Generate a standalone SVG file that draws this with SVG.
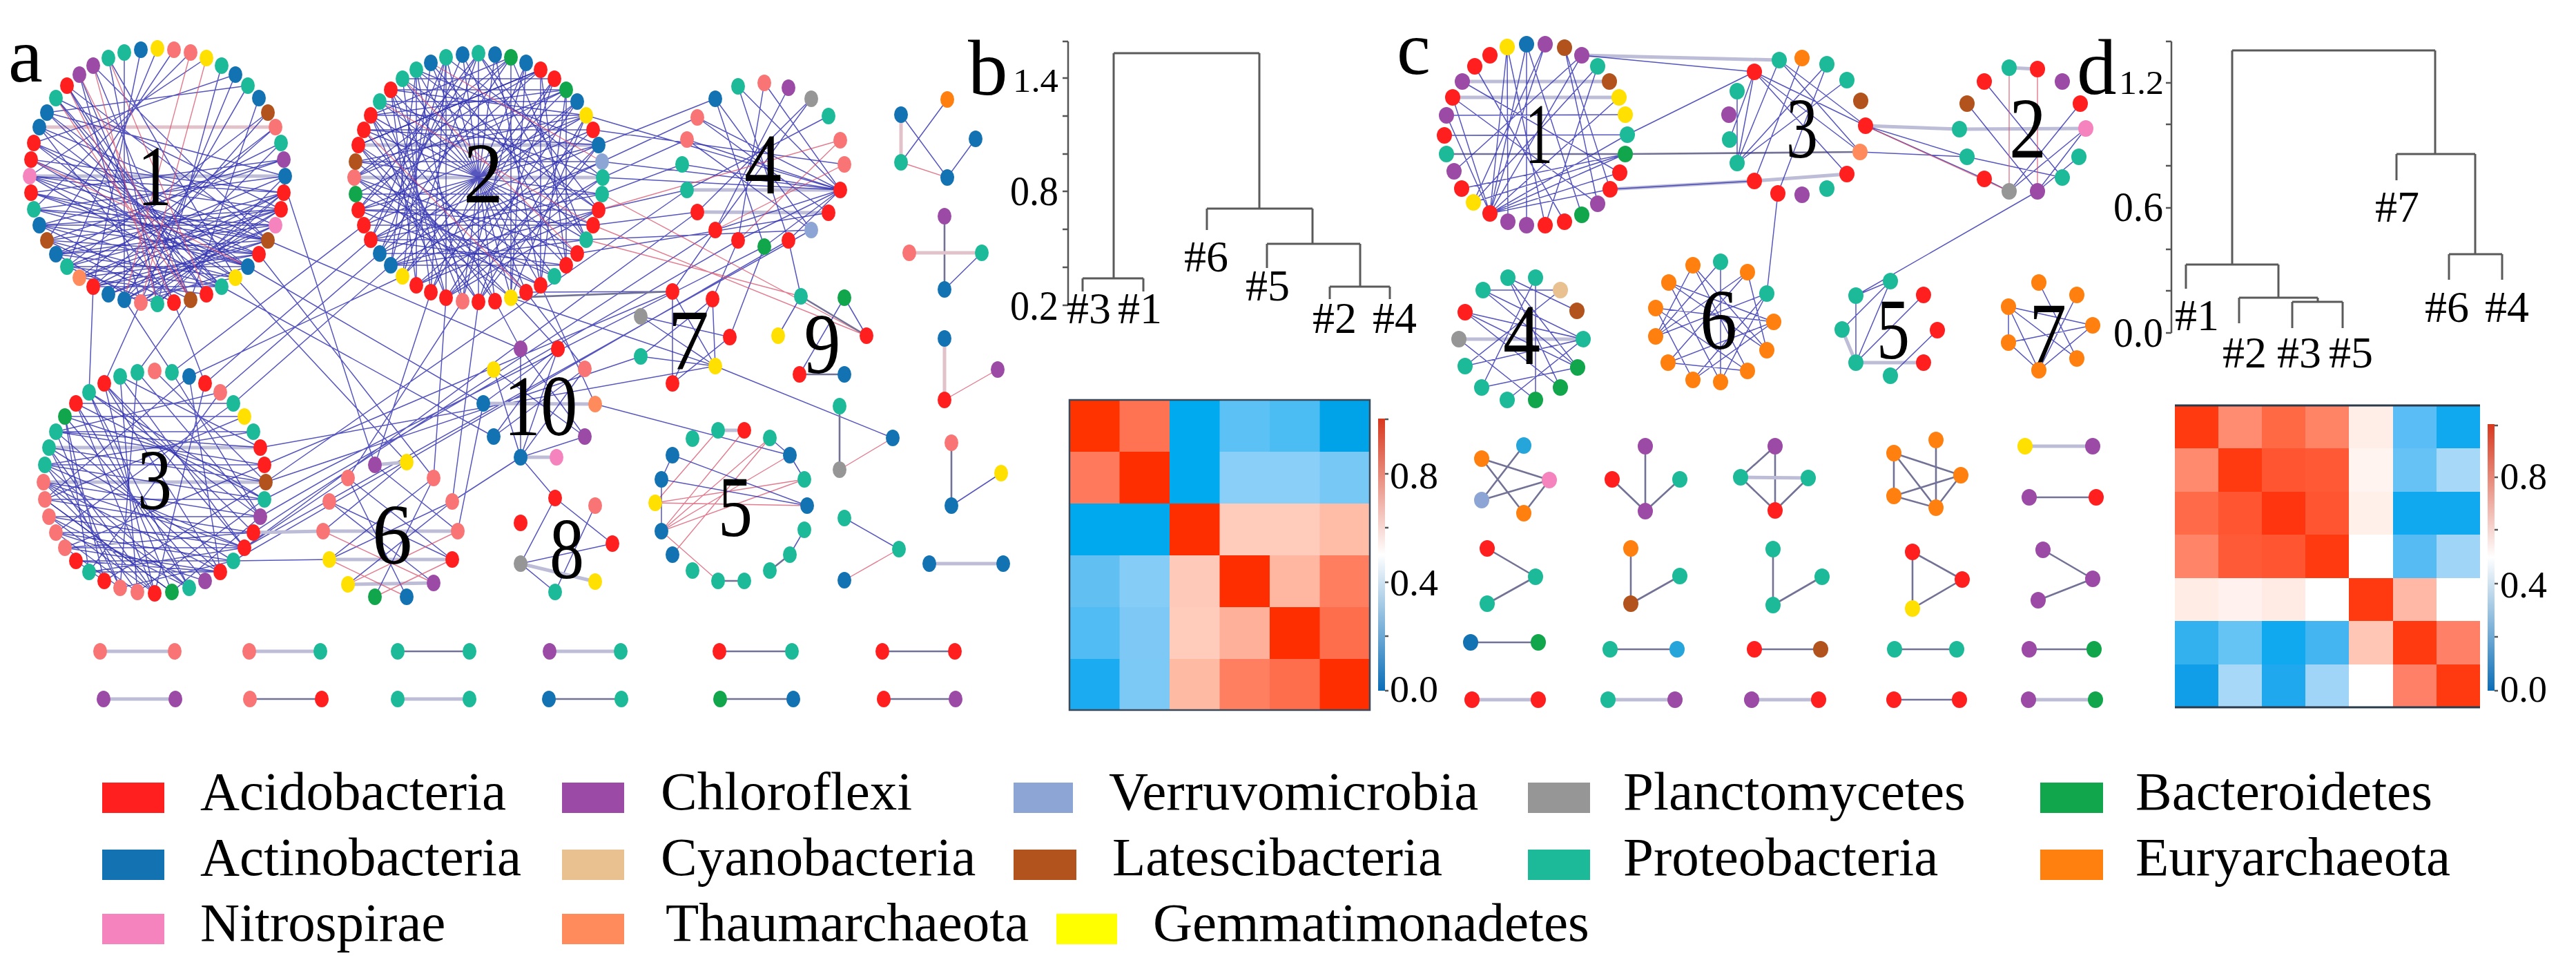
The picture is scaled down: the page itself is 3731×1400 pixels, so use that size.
<svg xmlns="http://www.w3.org/2000/svg" xmlns:xlink="http://www.w3.org/1999/xlink" width="3731" height="1400" viewBox="0 0 3731 1400">
<style>
.A{fill:#FF1F1F}.C{fill:#9B4BA5}.V{fill:#8DA5D5}.P{fill:#969696}.B{fill:#11A64B}.N{fill:#1272B2}.Y{fill:#E9C08F}.L{fill:#B2531E}.T{fill:#1DBA9A}.E{fill:#FF7F0F}.I{fill:#F584BE}.H{fill:#FF8B5C}.G{fill:#FFE000}.S{fill:#F97575}.K{fill:#25A5DA}
.e1{stroke:#2C2CAE;stroke-width:1.5;stroke-opacity:.8;fill:none}
.e2{stroke:#D8506A;stroke-width:1.4;stroke-opacity:.75;fill:none}
.e3{stroke:#BDBDD8;stroke-width:5;fill:none}
.e4{stroke:#727296;stroke-width:2.6;fill:none}
.e5{stroke:#E2C2CA;stroke-width:5;fill:none}
.dg{stroke:#5A5A5A;stroke-width:3;fill:none}
.ax{stroke:#555;stroke-width:2.5;fill:none}
.t{font-family:"Liberation Serif","Times New Roman",serif;fill:#000}
.lab{font-size:125px;text-anchor:middle}
.lg{font-size:79px}
.num{font-size:62px}
.hs{font-size:64px}
</style>
<defs>
<ellipse id="d" rx="10" ry="12"/>
<ellipse id="dc" rx="11" ry="12"/>
<linearGradient id="cb" x1="0" y1="0" x2="0" y2="1">
<stop offset="0" stop-color="#D8381E"/><stop offset="0.5" stop-color="#FFFFFF"/><stop offset="1" stop-color="#0A6EB8"/>
</linearGradient>
</defs>
<rect width="3731" height="1400" fill="#fff"/>

<g id="connectors">
<!-- panel a circle 1 -->
<path class="e3" d="M43 255L413 255"/>
<path class="e5" d="M57 184L399 184"/>
<path class="e1" d="M43 255L411 279M43 255L407 303M45 231L411 279M49 207L388 348M45 279L375 368M49 303L359 386M57 326L341 402M68 348L375 368M81 368L388 348M97 386L407 303M115 402L411 279M68 163L359 386M81 142L321 415M97 124L299 426M57 184L399 326M57 326L407 303M49 303L399 326M45 279L388 348M43 255L359 386M45 231L341 402M49 207L321 415M81 368L341 402M97 386L321 415M115 402L299 426M135 415L375 368M157 426L388 348M180 434L399 326M204 438L407 303M228 440L411 279M68 163L413 255M81 142L407 303M97 124L388 348M135 95L276 434M157 84L228 440M180 76L180 434M204 72L135 415M228 70L97 386M252 72L68 348M276 76L49 303M299 84L43 255M341 108L49 207M359 124L68 163M388 163L97 386M399 184L135 415M407 207L180 434M321 95L228 440M375 142L276 434M411 231L68 348M115 108L204 438M57 184L252 438M68 348L252 438M97 386L228 440M81 368L204 438M135 415L321 415M57 326L276 434M180 434L341 402M204 438L359 386M135 95L388 348M157 84L341 402"/>
<path class="e1" d="M97 386L413 255M81 368L411 279M68 348L407 303M57 326L399 326M49 303L388 348M45 279L359 386M115 402L375 368M135 415L388 348M157 426L399 326M180 434L407 303M204 438L411 279M228 440L413 255M45 231L375 368M49 207L359 386M57 184L341 402M68 163L321 415M81 142L299 426M97 124L276 434M115 108L252 438M43 255L321 415M43 255L388 348M49 303L413 255M68 348L321 415M97 386L359 386M57 326L375 368M81 368L399 326M115 402L407 303M135 415L411 279M45 279L411 231M57 326L411 231M81 368L407 207M115 402L399 184M157 426L388 163M180 434L359 124M204 438L341 108"/>
<path class="e2" d="M81 142L276 434M97 124L252 438M115 108L276 434M135 95L228 440M157 84L299 426M276 76L180 434M299 84L204 438M45 231L359 386"/>
<!-- circle 2 -->
<path class="e3" d="M513 257L873 257M519 210L867 210"/>
<path class="e1" d="M515 234L872 234M515 281L872 281M519 304L867 304M527 188L859 188M537 167L849 167M550 147L836 147M527 326L859 326M537 347L849 347M550 367L836 367M566 130L820 130M566 384L820 384M583 114L803 114M693 77L693 437M740 83L740 431M783 101L783 413M820 130L820 384M646 83L646 431M603 101L603 413M513 257L783 413M513 257L820 130M519 210L740 431M519 210L783 101M537 167L693 437M537 167L740 83M566 130L646 431M603 101L867 304M646 83L566 384M646 83L873 257M693 77L537 347M693 77L849 347M740 83L519 304M783 101L513 257M820 130L566 384M849 167L537 347M867 210L519 304M873 257L603 413M867 304L646 431M849 347L537 167M820 384L566 130M783 413L603 101M740 431L646 83M693 437L849 167M646 431L867 210M566 384L867 304M537 347L867 210M519 304L849 167M717 79L670 436M762 91L624 423M803 114L583 400M836 147L550 367M859 188L527 326M872 281L515 234M859 326L527 188M836 367L550 147M803 400L583 114M762 423L624 91M717 436L670 79M583 400L836 147M624 423L803 114M670 436L762 91M550 367L872 234M515 281L803 400M515 234L762 423M527 188L717 436M550 147L670 436M583 114L624 423M624 91L583 400M670 79L550 367"/>
<path class="e1" d="M693 77L867 304M740 83L849 347M783 101L820 384M820 130L783 413M849 167L740 431M867 210L693 437M873 257L646 431M867 304L603 413M849 347L566 384M820 384L537 347M783 413L519 304M740 431L513 257M693 437L519 210M646 431L537 167M603 413L566 130M566 384L603 101M537 347L646 83M519 304L693 77M513 257L740 83M519 210L783 101M537 167L820 130M566 130L849 167M603 101L867 210M717 79L783 413M762 91L740 431M803 114L693 437M836 147L646 431M859 188L603 413M872 234L566 384M872 281L537 347M859 326L519 304M836 367L513 257M803 400L519 210M762 423L537 167M717 436L566 130M670 436L603 101M624 423L646 83M583 400L693 77M550 367L740 83M527 326L783 101M515 281L820 130M515 234L849 167M527 188L867 210M550 147L873 257M583 114L867 304M624 91L849 347M670 79L820 384"/>
<path class="e2" d="M550 147L859 326M583 114L836 367M527 188L762 423M624 91L872 234"/>
<!-- circle 3 -->
<path class="e3" d="M63 698L385 698M71 648L377 648"/>
<path class="e1" d="M65 723L383 723M65 673L383 673M71 748L377 748M81 771L367 771M94 793L354 793M110 812L338 812M129 828L319 828M81 625L367 625M94 603L354 603M110 584L338 584M63 698L354 793M63 698L319 828M65 673L274 851M71 648L224 859M81 625L174 851M94 603L129 828M110 584L224 859M129 568L274 851M151 555L319 828M174 545L354 793M199 539L377 748M224 537L385 698M249 539L377 748M274 545L319 828M297 555L224 859M319 568L129 828M338 584L81 771M354 603L65 723M367 625L65 673M377 648L81 625M383 673L94 793M385 698L151 841M383 723L199 857M377 748L249 857M367 771L94 793M354 793L129 828M338 812L174 851M319 828L110 812M297 841L81 771M274 851L71 748M249 857L65 723M224 859L63 698M199 857L65 673M174 851L71 648M151 841L94 603M129 568L383 723M174 545L377 648M151 555L367 771M199 539L174 851M274 545L65 723M319 568L81 625"/>
<path class="e1" d="M65 673L354 793M71 648L338 812M81 625L319 828M94 603L297 841M110 584L274 851M129 568L249 857M151 555L224 859M174 545L199 857M65 723L367 771M71 748L354 793M81 771L338 812M94 793L319 828M63 698L377 748M65 673L383 723M71 648L385 698M81 625L383 673M94 603L385 698M110 584L383 723M129 568L377 748M151 555L354 793M63 698L274 851M65 723L249 857M71 748L224 859M81 771L199 857M94 793L174 851M110 812L151 841"/>
<!-- module 4 -->
<path class="e3" d="M995 275L1217 275M1010 307L1200 308"/>
<path class="e1" d="M988 238L1217 275M995 202L1217 275M1010 170L1217 275M1036 333L1217 275M1069 348L1217 275M1107 357L1217 275M1142 348L1217 275M1036 143L1107 357M1069 125L1142 348M1107 120L1069 348M1142 127L1036 333M1175 143L1010 307M1200 168L995 275M1036 143L1175 333M1069 125L1217 275M1010 170L1200 308M995 202L1175 333M1107 120L1217 275M1175 143L1036 333"/>
<path class="e2" d="M1217 203L1069 348M1223 238L1036 333"/>
<!-- inter-module panel a -->
<path class="e1" d="M867 210L1036 143M872 234L1010 170M873 257L995 202M872 281L988 238M867 304L995 275M873 257L1217 275M859 326L1010 307M859 188L1223 238M849 167L1217 275M872 234L1217 275M836 367L1200 308M849 347L1175 333M762 423L974 422M1036 333L367 771M1069 348L377 748M1107 357L383 723M1010 307L354 793M995 275L385 698M1142 348L338 812M1175 333L354 793M409 257L543 673M341 402L589 669M359 386L700 584M388 348L754 505M321 415L715 632M375 368L628 692M204 438L151 555M252 438L297 555M276 434L199 539M180 434L249 539M135 415L129 568M537 347L297 555M550 367L319 568M566 384L338 584M583 400L274 545M527 326L249 539M646 431L628 692M670 436L504 692M693 437L655 726M624 423L543 673M717 436L754 505M740 431L808 505M762 423L847 534M783 413L862 585M385 698L928 516M383 673L974 422M377 648L1036 530M338 812L477 810M354 793L504 692M1036 530L1293 634M862 585L1144 659M754 662L804 721M655 726L754 662M663 769L700 584M1069 348L1032 433M1107 357L1057 488M1036 333L974 422M1142 348L1160 429M740 431L1036 530"/>
<path class="e4" d="M740 431L974 422"/>
<path class="e3" d="M367 771L468 769"/>
<path class="e2" d="M867 304L1217 203M859 326L1255 486M849 347L1160 429M872 281L1255 486"/>
<!-- module 7 -->
<path class="e1" d="M974 422L1036 530M974 422L974 555M928 458L1036 530M928 458L1057 488M928 516L1036 530M928 516L1032 433M1032 433L974 555M1057 488L974 555M1032 433L1036 530"/>
<!-- module 9 -->
<path class="e1" d="M1160 429L1127 486M1223 431L1255 486M1223 431L1158 542"/>
<path class="e4" d="M1158 542L1223 542M1160 429L1255 486"/>
<!-- module 10 -->
<path class="e3" d="M700 584L862 585M754 662L806 662"/>
<path class="e1" d="M715 535L754 662M754 505L754 662M808 505L754 662M847 534L754 662M847 632L754 662M715 632L847 534M808 505L700 584M754 505L847 632M715 535L847 632M715 632L808 505"/>
<!-- module 6 -->
<path class="e3" d="M543 673L589 669M468 769L663 769M477 810L655 810M504 846L628 844"/>
<path class="e1" d="M504 692L655 810M628 692L477 810M477 726L628 844M655 726L504 846M504 692L589 864M628 692L543 864M543 673L663 769M589 669L468 769M477 726L655 810M655 726L477 810"/>
<path class="e2" d="M468 769L628 844M663 769L504 846M543 864L655 810M589 864L477 810"/>
<!-- module 8 -->
<path class="e1" d="M754 816L804 721M754 816L804 857M754 816L887 787M804 721L887 787M862 732L804 857"/>
<path class="e3" d="M754 816L862 842"/>
<!-- module 5 -->
<path class="e2" d="M958 769L1078 623M958 769L1115 634M958 769L1144 659M958 769L1165 694M949 728L1040 623M949 728L1165 694M958 769L1040 841M974 803L1115 634M949 728L1169 732"/>
<path class="e1" d="M958 694L1169 732M974 659L1169 732M1115 634L1144 659M1144 659L1165 694M1165 767L1144 803M958 694L958 769M974 659L958 694"/>
<path class="e3" d="M1040 623L1078 623"/>
<path class="e4" d="M1040 841L1078 841M1115 826L1144 803"/>
<!-- small components panel a -->
<path class="e5" d="M1305 166L1305 235M1368 490L1368 579"/>
<path class="e1" d="M1305 166L1372 257M1305 235L1372 144M1372 257L1413 201M1422 366L1368 419M1378 732L1450 685M1216 588L1216 680M1223 750L1302 795"/>
<path class="e2" d="M1305 235L1372 257M1368 579L1445 535M1216 680L1293 634M1302 795L1223 840"/>
<path class="e4" d="M1368 313L1368 419M1378 641L1378 732M1216 588L1216 680"/>
<path class="e5" d="M1317 366L1422 366"/>
<path class="e3" d="M1346 816L1453 816"/>
<path class="e3" d="M145 943L253 943M361 943L464 943M796 943L899 943M150 1012L254 1012M576 1012L680 1012"/>
<path class="e4" d="M576 943L680 943M1042 943L1147 943M1278 943L1383 943M362 1012L466 1012M795 1012L900 1012M1043 1012L1149 1012M1280 1012L1384 1012"/>
<!-- panel c -->
<path class="e4" d="M2095 223L2354 223M2354 223L2694 220"/>
<path class="e3" d="M2118 118L2331 118M2104 141L2345 141M2291 80L2577 87M2332 274L2541 262M2702 182L2838 187M2541 262L2675 252M2838 187L3021 186M2113 491L2293 491M2668 477L2688 525M2688 525L2786 525"/>
<path class="e1" d="M2095 167L2354 166M2092 196L2357 195M2158 309L2183 68M2158 309L2211 64M2158 309L2238 64M2158 309L2291 80M2158 309L2345 141M2158 309L2357 195M2158 309L2354 223M2158 309L2346 250M2158 309L2332 274M2158 309L2095 167M2158 309L2104 141M2134 293L2238 64M2134 293L2314 96M2134 293L2354 223M2184 321L2183 68M2211 326L2211 64M2238 326L2183 68M2291 311L2211 64M2314 295L2266 69M2332 274L2266 69M2346 250L2118 118M2314 96L2238 326M2291 80L2106 248M2117 273L2354 223M2104 141L2314 295M2266 321L2136 96M2291 80L2541 104M2357 195L2541 104M2332 274L2541 262M2516 236L2541 104M2516 236L2577 87M2516 236L2646 93M2516 236L2675 116M2541 104L2702 182M2541 104L2694 220M2541 104L2675 252M2577 87L2702 182M2577 87L2694 220M2610 84L2541 262M2646 93L2575 280M2516 132L2516 236M2505 202L2541 104M2575 280L2559 425M2702 182L2849 227M2702 182L2874 259M2694 220L2849 227M2874 118L2987 257M2849 150L2951 277M3013 150L2910 277M3021 186L2951 277M3021 186L2910 277M3011 227L2951 277M2849 227L2987 257M2874 259L2910 277M2951 277L2688 428M2688 428L2688 525M2738 407L2668 477M2738 407L2688 525M2688 525L2786 427M2806 478L2738 544M2688 428L2738 407M2909 444L3008 519M2909 444L2953 536M2953 409L3008 519M2909 496L3031 471M3031 471L2953 536M2909 444L3031 471M2909 496L2953 536M3008 427L2953 536M2909 444L2909 496M2148 420L2285 532M2122 452L2260 561M2113 491L2224 579M2184 402L2285 532M2224 402L2224 579M2224 402L2146 561M2148 420L2260 420M2184 402L2284 450M2122 452L2293 491M2122 530L2293 491M2146 561L2285 532M2183 579L2293 491M2184 402L2260 561M2148 420L2293 491M2122 452L2285 532M2260 420L2122 530M2398 446L2569 466M2417 409L2559 507M2452 384L2531 537M2492 379L2492 553M2531 394L2416 525M2398 487L2559 425M2416 525L2569 466M2452 550L2559 425M2417 409L2492 553M2452 384L2559 507M2398 446L2531 537M2398 487L2531 394M2492 379L2398 487M2417 409L2569 466M2452 384L2398 487M2398 446L2452 550M2416 525L2531 537M2452 550L2569 466M2492 553L2559 425M2531 394L2559 507"/>
<path class="e2" d="M2702 182L2910 277M2910 98L2910 277M2951 100L2951 277"/>
<path class="e3" d="M2910 98L2951 100"/>
<!-- small comps c -->
<path class="e4" d="M2146 664L2244 695M2146 664L2207 743M2207 645L2146 724M2146 724L2244 695M2244 695L2207 743M2383 646L2383 740M2335 694L2383 740M2433 694L2383 740M2571 646L2521 691M2571 646L2571 739M2521 691L2571 739M2619 692L2571 739M2743 656L2840 688M2743 656L2743 718M2743 656L2804 735M2804 637L2804 735M2743 718L2840 688M2743 718L2804 735M2840 688L2804 735M2154 794L2224 835M2224 835L2154 874M2362 794L2362 874M2362 874L2433 834M2568 795L2568 876M2568 876L2639 835M2770 799L2842 839M2842 839L2770 881M2770 799L2770 881M2959 796L3031 838M3031 838L2952 869M2130 930L2228 930M2332 940L2429 940M2541 940L2637 940M2744 940L2834 940M2939 940L3033 940M2743 1013L2838 1013M2939 720L3036 720"/>
<path class="e3" d="M2521 691L2619 692M2933 646L3031 646M2132 1013L2228 1013M2329 1013L2426 1013M2537 1013L2634 1013M2938 1013L3035 1013"/>
</g>

<g id="a-module1">
<use href="#d" class="G" x="228" y="70"/><use href="#d" class="S" x="252" y="72"/><use href="#d" class="S" x="276" y="76"/><use href="#d" class="G" x="299" y="84"/><use href="#d" class="T" x="321" y="95"/><use href="#d" class="N" x="341" y="108"/><use href="#d" class="T" x="359" y="124"/><use href="#d" class="N" x="375" y="142"/><use href="#d" class="L" x="388" y="163"/><use href="#d" class="S" x="399" y="184"/><use href="#d" class="T" x="407" y="207"/><use href="#d" class="C" x="411" y="231"/><use href="#d" class="N" x="413" y="255"/><use href="#d" class="A" x="411" y="279"/><use href="#d" class="A" x="407" y="303"/><use href="#d" class="I" x="399" y="326"/><use href="#d" class="L" x="388" y="348"/><use href="#d" class="A" x="375" y="368"/><use href="#d" class="N" x="359" y="386"/><use href="#d" class="G" x="341" y="402"/><use href="#d" class="T" x="321" y="415"/><use href="#d" class="A" x="299" y="426"/><use href="#d" class="L" x="276" y="434"/><use href="#d" class="A" x="252" y="438"/><use href="#d" class="T" x="228" y="440"/><use href="#d" class="S" x="204" y="438"/><use href="#d" class="N" x="180" y="434"/><use href="#d" class="N" x="157" y="426"/><use href="#d" class="A" x="135" y="415"/><use href="#d" class="H" x="115" y="402"/><use href="#d" class="T" x="97" y="386"/><use href="#d" class="N" x="81" y="368"/><use href="#d" class="L" x="68" y="348"/><use href="#d" class="N" x="57" y="326"/><use href="#d" class="T" x="49" y="303"/><use href="#d" class="A" x="45" y="279"/><use href="#d" class="I" x="43" y="255"/><use href="#d" class="A" x="45" y="231"/><use href="#d" class="A" x="49" y="207"/><use href="#d" class="N" x="57" y="184"/><use href="#d" class="N" x="68" y="163"/><use href="#d" class="T" x="81" y="142"/><use href="#d" class="A" x="97" y="124"/><use href="#d" class="C" x="115" y="108"/><use href="#d" class="C" x="135" y="95"/><use href="#d" class="T" x="157" y="84"/><use href="#d" class="T" x="180" y="76"/><use href="#d" class="N" x="204" y="72"/>
<text class="t lab" x="224" y="297" textLength="50" lengthAdjust="spacingAndGlyphs">1</text>
</g>
<g id="a-module2">
<use href="#d" class="T" x="693" y="77"/><use href="#d" class="N" x="717" y="79"/><use href="#d" class="B" x="740" y="83"/><use href="#d" class="N" x="762" y="91"/><use href="#d" class="A" x="783" y="101"/><use href="#d" class="A" x="803" y="114"/><use href="#d" class="B" x="820" y="130"/><use href="#d" class="N" x="836" y="147"/><use href="#d" class="G" x="849" y="167"/><use href="#d" class="A" x="859" y="188"/><use href="#d" class="N" x="867" y="210"/><use href="#d" class="V" x="872" y="234"/><use href="#d" class="T" x="873" y="257"/><use href="#d" class="T" x="872" y="281"/><use href="#d" class="A" x="867" y="304"/><use href="#d" class="A" x="859" y="326"/><use href="#d" class="T" x="849" y="347"/><use href="#d" class="A" x="836" y="367"/><use href="#d" class="A" x="820" y="384"/><use href="#d" class="T" x="803" y="400"/><use href="#d" class="A" x="783" y="413"/><use href="#d" class="A" x="762" y="423"/><use href="#d" class="G" x="740" y="431"/><use href="#d" class="A" x="717" y="436"/><use href="#d" class="A" x="693" y="437"/><use href="#d" class="S" x="670" y="436"/><use href="#d" class="A" x="646" y="431"/><use href="#d" class="A" x="624" y="423"/><use href="#d" class="A" x="603" y="413"/><use href="#d" class="G" x="583" y="400"/><use href="#d" class="N" x="566" y="384"/><use href="#d" class="N" x="550" y="367"/><use href="#d" class="A" x="537" y="347"/><use href="#d" class="A" x="527" y="326"/><use href="#d" class="A" x="519" y="304"/><use href="#d" class="B" x="515" y="281"/><use href="#d" class="S" x="513" y="257"/><use href="#d" class="L" x="515" y="234"/><use href="#d" class="A" x="519" y="210"/><use href="#d" class="A" x="527" y="188"/><use href="#d" class="A" x="537" y="167"/><use href="#d" class="T" x="550" y="147"/><use href="#d" class="A" x="566" y="130"/><use href="#d" class="T" x="583" y="114"/><use href="#d" class="T" x="603" y="101"/><use href="#d" class="N" x="624" y="91"/><use href="#d" class="T" x="646" y="83"/><use href="#d" class="N" x="670" y="79"/>
<text class="t lab" x="700" y="293" textLength="58" lengthAdjust="spacingAndGlyphs">2</text>
</g>
<g id="a-module3">
<use href="#d" class="S" x="224" y="537"/><use href="#d" class="T" x="249" y="539"/><use href="#d" class="N" x="274" y="545"/><use href="#d" class="A" x="297" y="555"/><use href="#d" class="S" x="319" y="568"/><use href="#d" class="T" x="338" y="584"/><use href="#d" class="G" x="354" y="603"/><use href="#d" class="T" x="367" y="625"/><use href="#d" class="A" x="377" y="648"/><use href="#d" class="A" x="383" y="673"/><use href="#d" class="L" x="385" y="698"/><use href="#d" class="T" x="383" y="723"/><use href="#d" class="C" x="377" y="748"/><use href="#d" class="A" x="367" y="771"/><use href="#d" class="A" x="354" y="793"/><use href="#d" class="T" x="338" y="812"/><use href="#d" class="A" x="319" y="828"/><use href="#d" class="C" x="297" y="841"/><use href="#d" class="T" x="274" y="851"/><use href="#d" class="B" x="249" y="857"/><use href="#d" class="A" x="224" y="859"/><use href="#d" class="S" x="199" y="857"/><use href="#d" class="S" x="174" y="851"/><use href="#d" class="A" x="151" y="841"/><use href="#d" class="T" x="129" y="828"/><use href="#d" class="A" x="110" y="812"/><use href="#d" class="S" x="94" y="793"/><use href="#d" class="S" x="81" y="771"/><use href="#d" class="S" x="71" y="748"/><use href="#d" class="S" x="65" y="723"/><use href="#d" class="S" x="63" y="698"/><use href="#d" class="T" x="65" y="673"/><use href="#d" class="T" x="71" y="648"/><use href="#d" class="T" x="81" y="625"/><use href="#d" class="B" x="94" y="603"/><use href="#d" class="A" x="110" y="584"/><use href="#d" class="T" x="129" y="568"/><use href="#d" class="A" x="151" y="555"/><use href="#d" class="T" x="174" y="545"/><use href="#d" class="T" x="199" y="539"/>
<text class="t lab" x="224" y="737" textLength="50" lengthAdjust="spacingAndGlyphs">3</text>
</g>
<g id="a-module4">
<use href="#d" class="N" x="1036" y="143"/><use href="#d" class="T" x="1069" y="125"/><use href="#d" class="S" x="1107" y="120"/><use href="#d" class="C" x="1142" y="127"/><use href="#d" class="P" x="1175" y="143"/><use href="#d" class="T" x="1200" y="168"/><use href="#d" class="S" x="1217" y="203"/><use href="#d" class="S" x="1223" y="238"/><use href="#d" class="A" x="1217" y="275"/><use href="#d" class="A" x="1200" y="308"/><use href="#d" class="V" x="1175" y="333"/><use href="#d" class="A" x="1142" y="348"/><use href="#d" class="B" x="1107" y="357"/><use href="#d" class="A" x="1069" y="348"/><use href="#d" class="A" x="1036" y="333"/><use href="#d" class="A" x="1010" y="307"/><use href="#d" class="T" x="995" y="275"/><use href="#d" class="T" x="988" y="238"/><use href="#d" class="S" x="995" y="202"/><use href="#d" class="S" x="1010" y="170"/>
<text class="t lab" x="1105" y="280" textLength="54" lengthAdjust="spacingAndGlyphs">4</text>
</g>
<g id="a-module5">
<use href="#d" class="T" x="1003" y="635"/><use href="#d" class="T" x="1040" y="623"/><use href="#d" class="A" x="1078" y="623"/><use href="#d" class="T" x="1115" y="634"/><use href="#d" class="N" x="1144" y="659"/><use href="#d" class="T" x="1165" y="694"/><use href="#d" class="N" x="1169" y="732"/><use href="#d" class="T" x="1165" y="767"/><use href="#d" class="T" x="1144" y="803"/><use href="#d" class="T" x="1115" y="826"/><use href="#d" class="T" x="1078" y="841"/><use href="#d" class="T" x="1040" y="841"/><use href="#d" class="T" x="1003" y="826"/><use href="#d" class="N" x="974" y="803"/><use href="#d" class="N" x="958" y="769"/><use href="#d" class="G" x="949" y="728"/><use href="#d" class="N" x="958" y="694"/><use href="#d" class="N" x="974" y="659"/>
<text class="t lab" x="1065" y="776" textLength="50" lengthAdjust="spacingAndGlyphs">5</text>
</g>
<g id="a-module6">
<use href="#d" class="C" x="543" y="673"/><use href="#d" class="G" x="589" y="669"/><use href="#d" class="S" x="504" y="692"/><use href="#d" class="S" x="628" y="692"/><use href="#d" class="S" x="477" y="726"/><use href="#d" class="S" x="655" y="726"/><use href="#d" class="S" x="468" y="769"/><use href="#d" class="S" x="663" y="769"/><use href="#d" class="G" x="477" y="810"/><use href="#d" class="A" x="655" y="810"/><use href="#d" class="G" x="504" y="846"/><use href="#d" class="C" x="628" y="844"/><use href="#d" class="B" x="543" y="864"/><use href="#d" class="N" x="589" y="864"/>
<text class="t lab" x="568" y="816" textLength="58" lengthAdjust="spacingAndGlyphs">6</text>
</g>
<g id="a-module7">
<use href="#d" class="A" x="974" y="422"/><use href="#d" class="A" x="1032" y="433"/><use href="#d" class="P" x="928" y="458"/><use href="#d" class="A" x="1057" y="488"/><use href="#d" class="T" x="928" y="516"/><use href="#d" class="G" x="1036" y="530"/><use href="#d" class="A" x="974" y="555"/>
<text class="t lab" x="997" y="535" textLength="60" lengthAdjust="spacingAndGlyphs">7</text>
</g>
<g id="a-module8">
<use href="#d" class="A" x="804" y="721"/><use href="#d" class="S" x="862" y="732"/><use href="#d" class="A" x="754" y="757"/><use href="#d" class="A" x="887" y="787"/><use href="#d" class="P" x="754" y="816"/><use href="#d" class="G" x="862" y="842"/><use href="#d" class="T" x="804" y="857"/>
<text class="t lab" x="821" y="837" textLength="50" lengthAdjust="spacingAndGlyphs">8</text>
</g>
<g id="a-module9">
<use href="#d" class="T" x="1160" y="429"/><use href="#d" class="B" x="1223" y="431"/><use href="#d" class="G" x="1127" y="486"/><use href="#d" class="A" x="1255" y="486"/><use href="#d" class="A" x="1158" y="542"/><use href="#d" class="N" x="1223" y="542"/>
<text class="t lab" x="1191" y="540" textLength="53" lengthAdjust="spacingAndGlyphs">9</text>
</g>
<g id="a-module10">
<use href="#d" class="C" x="754" y="505"/><use href="#d" class="A" x="808" y="505"/><use href="#d" class="G" x="715" y="535"/><use href="#d" class="S" x="847" y="534"/><use href="#d" class="N" x="700" y="584"/><use href="#d" class="H" x="862" y="585"/><use href="#d" class="N" x="715" y="632"/><use href="#d" class="C" x="847" y="632"/><use href="#d" class="N" x="754" y="662"/><use href="#d" class="I" x="806" y="662"/>
<text class="t lab" x="783" y="630" textLength="107" lengthAdjust="spacingAndGlyphs">10</text>
</g>
<g id="a-small">
<use href="#d" class="N" x="1305" y="166"/><use href="#d" class="E" x="1372" y="144"/><use href="#d" class="N" x="1413" y="201"/><use href="#d" class="T" x="1305" y="235"/><use href="#d" class="N" x="1372" y="257"/>
<use href="#d" class="C" x="1368" y="313"/><use href="#d" class="S" x="1317" y="366"/><use href="#d" class="T" x="1422" y="366"/><use href="#d" class="N" x="1368" y="419"/>
<use href="#d" class="N" x="1368" y="490"/><use href="#d" class="A" x="1368" y="579"/><use href="#d" class="C" x="1445" y="535"/>
<use href="#d" class="S" x="1378" y="641"/><use href="#d" class="N" x="1378" y="732"/><use href="#d" class="G" x="1450" y="685"/>
<use href="#d" class="T" x="1216" y="588"/><use href="#d" class="P" x="1216" y="680"/><use href="#d" class="N" x="1293" y="634"/>
<use href="#d" class="T" x="1223" y="750"/><use href="#d" class="T" x="1302" y="795"/><use href="#d" class="N" x="1223" y="840"/>
<use href="#d" class="N" x="1346" y="816"/><use href="#d" class="N" x="1453" y="816"/>
<use href="#d" class="S" x="145" y="943"/><use href="#d" class="S" x="253" y="943"/><use href="#d" class="S" x="361" y="943"/><use href="#d" class="T" x="464" y="943"/><use href="#d" class="T" x="576" y="943"/><use href="#d" class="T" x="680" y="943"/><use href="#d" class="C" x="796" y="943"/><use href="#d" class="T" x="899" y="943"/><use href="#d" class="A" x="1042" y="943"/><use href="#d" class="T" x="1147" y="943"/><use href="#d" class="A" x="1278" y="943"/><use href="#d" class="A" x="1383" y="943"/>
<use href="#d" class="C" x="150" y="1012"/><use href="#d" class="C" x="254" y="1012"/><use href="#d" class="S" x="362" y="1012"/><use href="#d" class="A" x="466" y="1012"/><use href="#d" class="T" x="576" y="1012"/><use href="#d" class="T" x="680" y="1012"/><use href="#d" class="N" x="795" y="1012"/><use href="#d" class="T" x="900" y="1012"/><use href="#d" class="B" x="1043" y="1012"/><use href="#d" class="N" x="1149" y="1012"/><use href="#d" class="A" x="1280" y="1012"/><use href="#d" class="C" x="1384" y="1012"/>
</g>

<g id="c-module1">
<use href="#dc" class="G" x="2183" y="68"/><use href="#dc" class="N" x="2211" y="64"/><use href="#dc" class="C" x="2238" y="64"/><use href="#dc" class="L" x="2266" y="69"/><use href="#dc" class="C" x="2291" y="80"/><use href="#dc" class="T" x="2314" y="96"/><use href="#dc" class="L" x="2331" y="118"/><use href="#dc" class="G" x="2345" y="141"/><use href="#dc" class="G" x="2354" y="166"/><use href="#dc" class="T" x="2357" y="195"/><use href="#dc" class="B" x="2354" y="223"/><use href="#dc" class="A" x="2346" y="250"/><use href="#dc" class="A" x="2332" y="274"/><use href="#dc" class="C" x="2314" y="295"/><use href="#dc" class="B" x="2291" y="311"/><use href="#dc" class="A" x="2266" y="321"/><use href="#dc" class="A" x="2238" y="326"/><use href="#dc" class="C" x="2211" y="326"/><use href="#dc" class="C" x="2184" y="321"/><use href="#dc" class="A" x="2158" y="309"/><use href="#dc" class="G" x="2134" y="293"/><use href="#dc" class="A" x="2117" y="273"/><use href="#dc" class="C" x="2106" y="248"/><use href="#dc" class="T" x="2095" y="223"/><use href="#dc" class="A" x="2092" y="196"/><use href="#dc" class="C" x="2095" y="167"/><use href="#dc" class="A" x="2104" y="141"/><use href="#dc" class="C" x="2118" y="118"/><use href="#dc" class="A" x="2136" y="96"/><use href="#dc" class="A" x="2158" y="80"/>
<text class="t lab" x="2229" y="236" textLength="40" lengthAdjust="spacingAndGlyphs">1</text>
</g>
<g id="c-module2">
<use href="#dc" class="T" x="2910" y="98"/><use href="#dc" class="A" x="2951" y="100"/><use href="#dc" class="C" x="2987" y="118"/><use href="#dc" class="A" x="3013" y="150"/><use href="#dc" class="I" x="3021" y="186"/><use href="#dc" class="T" x="3011" y="227"/><use href="#dc" class="T" x="2987" y="257"/><use href="#dc" class="C" x="2951" y="277"/><use href="#dc" class="P" x="2910" y="277"/><use href="#dc" class="A" x="2874" y="259"/><use href="#dc" class="T" x="2849" y="227"/><use href="#dc" class="T" x="2838" y="187"/><use href="#dc" class="L" x="2849" y="150"/><use href="#dc" class="A" x="2874" y="118"/>
<text class="t lab" x="2937" y="228" textLength="54" lengthAdjust="spacingAndGlyphs">2</text>
</g>
<g id="c-module3">
<use href="#dc" class="T" x="2577" y="87"/><use href="#dc" class="E" x="2610" y="84"/><use href="#dc" class="T" x="2646" y="93"/><use href="#dc" class="T" x="2675" y="116"/><use href="#dc" class="L" x="2695" y="146"/><use href="#dc" class="A" x="2702" y="182"/><use href="#dc" class="H" x="2694" y="220"/><use href="#dc" class="A" x="2675" y="252"/><use href="#dc" class="T" x="2646" y="273"/><use href="#dc" class="C" x="2610" y="282"/><use href="#dc" class="A" x="2575" y="280"/><use href="#dc" class="A" x="2541" y="262"/><use href="#dc" class="T" x="2516" y="236"/><use href="#dc" class="T" x="2505" y="202"/><use href="#dc" class="C" x="2504" y="166"/><use href="#dc" class="T" x="2516" y="132"/><use href="#dc" class="A" x="2541" y="104"/>
<text class="t lab" x="2610" y="228" textLength="46" lengthAdjust="spacingAndGlyphs">3</text>
</g>
<g id="c-module4">
<use href="#dc" class="T" x="2184" y="402"/><use href="#dc" class="T" x="2224" y="402"/><use href="#dc" class="Y" x="2260" y="420"/><use href="#dc" class="L" x="2284" y="450"/><use href="#dc" class="T" x="2293" y="491"/><use href="#dc" class="B" x="2285" y="532"/><use href="#dc" class="B" x="2260" y="561"/><use href="#dc" class="B" x="2224" y="579"/><use href="#dc" class="T" x="2183" y="579"/><use href="#dc" class="T" x="2146" y="561"/><use href="#dc" class="T" x="2122" y="530"/><use href="#dc" class="P" x="2113" y="491"/><use href="#dc" class="A" x="2122" y="452"/><use href="#dc" class="T" x="2148" y="420"/>
<text class="t lab" x="2204" y="527" textLength="54" lengthAdjust="spacingAndGlyphs">4</text>
</g>
<g id="c-module5">
<use href="#dc" class="T" x="2738" y="407"/><use href="#dc" class="T" x="2688" y="428"/><use href="#dc" class="A" x="2786" y="427"/><use href="#dc" class="T" x="2668" y="477"/><use href="#dc" class="A" x="2806" y="478"/><use href="#dc" class="T" x="2688" y="525"/><use href="#dc" class="A" x="2786" y="525"/><use href="#dc" class="T" x="2738" y="544"/>
<text class="t lab" x="2742" y="519" textLength="48" lengthAdjust="spacingAndGlyphs">5</text>
</g>
<g id="c-module6">
<use href="#dc" class="E" x="2452" y="384"/><use href="#dc" class="T" x="2492" y="379"/><use href="#dc" class="E" x="2531" y="394"/><use href="#dc" class="T" x="2559" y="425"/><use href="#dc" class="E" x="2569" y="466"/><use href="#dc" class="E" x="2559" y="507"/><use href="#dc" class="E" x="2531" y="537"/><use href="#dc" class="E" x="2492" y="553"/><use href="#dc" class="E" x="2452" y="550"/><use href="#dc" class="E" x="2416" y="525"/><use href="#dc" class="E" x="2398" y="487"/><use href="#dc" class="E" x="2398" y="446"/><use href="#dc" class="E" x="2417" y="409"/>
<text class="t lab" x="2489" y="505" textLength="54" lengthAdjust="spacingAndGlyphs">6</text>
</g>
<g id="c-module7">
<use href="#dc" class="E" x="2953" y="409"/><use href="#dc" class="E" x="3008" y="427"/><use href="#dc" class="E" x="2909" y="444"/><use href="#dc" class="E" x="3031" y="471"/><use href="#dc" class="E" x="2909" y="496"/><use href="#dc" class="E" x="3008" y="519"/><use href="#dc" class="E" x="2953" y="536"/>
<text class="t lab" x="2966" y="525" textLength="54" lengthAdjust="spacingAndGlyphs">7</text>
</g>
<g id="c-small">
<use href="#dc" class="E" x="2146" y="664"/><use href="#dc" class="K" x="2207" y="645"/><use href="#dc" class="I" x="2244" y="695"/><use href="#dc" class="V" x="2146" y="724"/><use href="#dc" class="E" x="2207" y="743"/>
<use href="#dc" class="C" x="2383" y="646"/><use href="#dc" class="A" x="2335" y="694"/><use href="#dc" class="T" x="2433" y="694"/><use href="#dc" class="C" x="2383" y="740"/>
<use href="#dc" class="C" x="2571" y="646"/><use href="#dc" class="T" x="2521" y="691"/><use href="#dc" class="T" x="2619" y="692"/><use href="#dc" class="A" x="2571" y="739"/>
<use href="#dc" class="E" x="2804" y="637"/><use href="#dc" class="E" x="2743" y="656"/><use href="#dc" class="E" x="2840" y="688"/><use href="#dc" class="E" x="2743" y="718"/><use href="#dc" class="E" x="2804" y="735"/>
<use href="#dc" class="G" x="2933" y="646"/><use href="#dc" class="C" x="3031" y="646"/><use href="#dc" class="C" x="2939" y="720"/><use href="#dc" class="A" x="3036" y="720"/>
<use href="#dc" class="A" x="2154" y="794"/><use href="#dc" class="T" x="2224" y="835"/><use href="#dc" class="T" x="2154" y="874"/>
<use href="#dc" class="E" x="2362" y="794"/><use href="#dc" class="T" x="2433" y="834"/><use href="#dc" class="L" x="2362" y="874"/>
<use href="#dc" class="T" x="2568" y="795"/><use href="#dc" class="T" x="2639" y="835"/><use href="#dc" class="T" x="2568" y="876"/>
<use href="#dc" class="A" x="2770" y="799"/><use href="#dc" class="A" x="2842" y="839"/><use href="#dc" class="G" x="2770" y="881"/>
<use href="#dc" class="C" x="2959" y="796"/><use href="#dc" class="C" x="3031" y="838"/><use href="#dc" class="C" x="2952" y="869"/>
<use href="#dc" class="N" x="2130" y="930"/><use href="#dc" class="B" x="2228" y="930"/><use href="#dc" class="T" x="2332" y="940"/><use href="#dc" class="K" x="2429" y="940"/><use href="#dc" class="A" x="2541" y="940"/><use href="#dc" class="L" x="2637" y="940"/><use href="#dc" class="T" x="2744" y="940"/><use href="#dc" class="T" x="2834" y="940"/><use href="#dc" class="C" x="2939" y="940"/><use href="#dc" class="B" x="3033" y="940"/>
<use href="#dc" class="A" x="2132" y="1013"/><use href="#dc" class="A" x="2228" y="1013"/><use href="#dc" class="T" x="2329" y="1013"/><use href="#dc" class="C" x="2426" y="1013"/><use href="#dc" class="C" x="2537" y="1013"/><use href="#dc" class="A" x="2634" y="1013"/><use href="#dc" class="A" x="2743" y="1013"/><use href="#dc" class="A" x="2838" y="1013"/><use href="#dc" class="C" x="2938" y="1013"/><use href="#dc" class="B" x="3035" y="1013"/>
</g>

<g id="panel-letters">
<text class="t" x="12" y="118" font-size="112">a</text>
<text class="t" x="1402" y="137" font-size="115">b</text>
<text class="t" x="2023" y="107" font-size="110">c</text>
<text class="t" x="3008" y="136" font-size="115">d</text>
</g>

<g id="b-dendrogram">
<path class="ax" d="M1547 60V442M1539 60H1547M1539 113H1547M1539 168H1547M1539 223H1547M1539 277H1547M1539 332H1547M1539 387H1547M1539 442H1547"/>
<text class="t" x="1533" y="133" font-size="49" text-anchor="end" textLength="66" lengthAdjust="spacingAndGlyphs">1.4</text>
<text class="t num" x="1533" y="297" text-anchor="end" textLength="70" lengthAdjust="spacingAndGlyphs">0.8</text>
<text class="t num" x="1533" y="463" text-anchor="end" textLength="70" lengthAdjust="spacingAndGlyphs">0.2</text>
<path class="dg" d="M1613 77H1824M1613 77V403M1568 403H1656M1568 403V422M1656 403V422M1824 77V302M1748 302H1901M1748 302V333M1901 302V353M1835 353H1970M1835 353V388M1970 353V415M1926 415H2013M1926 415V433M2013 415V433"/>
<text class="t hs" x="1545" y="468">#3</text>
<text class="t hs" x="1619" y="468">#1</text>
<text class="t hs" x="1715" y="393">#6</text>
<text class="t hs" x="1804" y="435">#5</text>
<text class="t hs" x="1901" y="482">#2</text>
<text class="t hs" x="1988" y="482">#4</text>
</g>

<g id="b-heatmap">
<rect x="1549" y="579" width="73" height="75" fill="#FF3300"/><rect x="1621.5" y="579" width="73" height="75" fill="#FF7352"/><rect x="1694" y="579" width="73" height="75" fill="#00AAEF"/><rect x="1766.5" y="579" width="73" height="75" fill="#5CC2F5"/><rect x="1839" y="579" width="73" height="75" fill="#4CBDF3"/><rect x="1911.5" y="579" width="72.5" height="75" fill="#00A3E8"/>
<rect x="1549" y="654" width="73" height="75" fill="#FF7A5C"/><rect x="1621.5" y="654" width="73" height="75" fill="#FF2E00"/><rect x="1694" y="654" width="73" height="75" fill="#00AAEF"/><rect x="1766.5" y="654" width="73" height="75" fill="#8ACFF7"/><rect x="1839" y="654" width="73" height="75" fill="#8ACFF7"/><rect x="1911.5" y="654" width="72.5" height="75" fill="#78C8F5"/>
<rect x="1549" y="729" width="73" height="75" fill="#00A9EE"/><rect x="1621.5" y="729" width="73" height="75" fill="#00A9EE"/><rect x="1694" y="729" width="73" height="75" fill="#FF2E00"/><rect x="1766.5" y="729" width="73" height="75" fill="#FFCBBB"/><rect x="1839" y="729" width="73" height="75" fill="#FFCBBB"/><rect x="1911.5" y="729" width="72.5" height="75" fill="#FFBDA8"/>
<rect x="1549" y="804" width="73" height="75" fill="#62BFF2"/><rect x="1621.5" y="804" width="73" height="75" fill="#85CCF6"/><rect x="1694" y="804" width="73" height="75" fill="#FFC9B9"/><rect x="1766.5" y="804" width="73" height="75" fill="#FF2E00"/><rect x="1839" y="804" width="73" height="75" fill="#FFB7A2"/><rect x="1911.5" y="804" width="72.5" height="75" fill="#FF7E60"/>
<rect x="1549" y="879" width="73" height="75" fill="#50BCF3"/><rect x="1621.5" y="879" width="73" height="75" fill="#7DC8F5"/><rect x="1694" y="879" width="73" height="75" fill="#FFCBBB"/><rect x="1766.5" y="879" width="73" height="75" fill="#FFB09A"/><rect x="1839" y="879" width="73" height="75" fill="#FF2E00"/><rect x="1911.5" y="879" width="72.5" height="75" fill="#FF6E4C"/>
<rect x="1549" y="954" width="73" height="74" fill="#1AABF0"/><rect x="1621.5" y="954" width="73" height="74" fill="#7CC9F5"/><rect x="1694" y="954" width="73" height="74" fill="#FFBAA4"/><rect x="1766.5" y="954" width="73" height="74" fill="#FF7F60"/><rect x="1839" y="954" width="73" height="74" fill="#FF6E4C"/><rect x="1911.5" y="954" width="72.5" height="74" fill="#FF2E00"/>
<rect x="1549" y="579" width="435" height="449" fill="none" stroke="#3A4A5A" stroke-width="2.5"/>
<rect x="1996" y="606" width="10" height="394" fill="url(#cb)"/>
<path class="ax" d="M2006 607H2011M2006 686H2011M2006 764H2011M2006 843H2011M2006 921H2011M2006 1000H2011" stroke-width="1.5"/>
<text class="t" x="2013" y="707" font-size="55" textLength="70" lengthAdjust="spacingAndGlyphs">0.8</text>
<text class="t" x="2013" y="862" font-size="55" textLength="70" lengthAdjust="spacingAndGlyphs">0.4</text>
<text class="t" x="2013" y="1016" font-size="55" textLength="70" lengthAdjust="spacingAndGlyphs">0.0</text>
</g>

<g id="d-dendrogram">
<path class="ax" d="M3145 60V482M3137 60H3145M3137 120H3145M3137 180H3145M3137 240H3145M3137 301H3145M3137 361H3145M3137 421H3145M3137 482H3145"/>
<text class="t" x="3134" y="136" font-size="49" text-anchor="end" textLength="65" lengthAdjust="spacingAndGlyphs">1.2</text>
<text class="t num" x="3133" y="320" text-anchor="end" textLength="72" lengthAdjust="spacingAndGlyphs">0.6</text>
<text class="t num" x="3133" y="502" text-anchor="end" textLength="72" lengthAdjust="spacingAndGlyphs">0.0</text>
<path class="dg" d="M3233 73H3527M3233 73V383M3166 383H3300M3166 383V418M3300 383V431M3243 431H3357M3243 431V468M3357 431V437M3320 437H3393M3320 437V475M3393 437V475M3527 73V223M3471 223H3585M3471 223V261M3585 223V368M3547 368H3624M3547 368V405M3624 368V405"/>
<text class="t hs" x="3440" y="321">#7</text>
<text class="t hs" x="3150" y="478">#1</text>
<text class="t hs" x="3219" y="532">#2</text>
<text class="t hs" x="3298" y="532">#3</text>
<text class="t hs" x="3373" y="532">#5</text>
<text class="t hs" x="3512" y="466">#6</text>
<text class="t hs" x="3599" y="466">#4</text>
</g>

<g id="d-heatmap">
<rect x="3150" y="587" width="64" height="63" fill="#FF3A10"/><rect x="3213" y="587" width="64" height="63" fill="#FF8C70"/><rect x="3276" y="587" width="64" height="63" fill="#FF6A45"/><rect x="3339" y="587" width="64" height="63" fill="#FF8466"/><rect x="3402" y="587" width="64" height="63" fill="#FFEEE8"/><rect x="3466" y="587" width="64" height="63" fill="#5BBDF5"/><rect x="3529" y="587" width="63" height="63" fill="#10A8EE"/>
<rect x="3150" y="649" width="64" height="63" fill="#FF8A6E"/><rect x="3213" y="649" width="64" height="63" fill="#FF3A10"/><rect x="3276" y="649" width="64" height="63" fill="#FF5530"/><rect x="3339" y="649" width="64" height="63" fill="#FF5A35"/><rect x="3402" y="649" width="64" height="63" fill="#FFF4F0"/><rect x="3466" y="649" width="64" height="63" fill="#66C2F5"/><rect x="3529" y="649" width="63" height="63" fill="#A8D8F8"/>
<rect x="3150" y="712" width="64" height="63" fill="#FF6A48"/><rect x="3213" y="712" width="64" height="63" fill="#FF5530"/><rect x="3276" y="712" width="64" height="63" fill="#FF3510"/><rect x="3339" y="712" width="64" height="63" fill="#FF5530"/><rect x="3402" y="712" width="64" height="63" fill="#FFF0EA"/><rect x="3466" y="712" width="64" height="63" fill="#10A8EE"/><rect x="3529" y="712" width="63" height="63" fill="#10A8EE"/>
<rect x="3150" y="774" width="64" height="63" fill="#FF8468"/><rect x="3213" y="774" width="64" height="63" fill="#FF5A38"/><rect x="3276" y="774" width="64" height="63" fill="#FF5530"/><rect x="3339" y="774" width="64" height="63" fill="#FF3A10"/><rect x="3402" y="774" width="64" height="63" fill="#FFFFFF"/><rect x="3466" y="774" width="64" height="63" fill="#55BBF2"/><rect x="3529" y="774" width="63" height="63" fill="#A0D5F8"/>
<rect x="3150" y="837" width="64" height="63" fill="#FFEDE5"/><rect x="3213" y="837" width="64" height="63" fill="#FFF2EE"/><rect x="3276" y="837" width="64" height="63" fill="#FFEBE3"/><rect x="3339" y="837" width="64" height="63" fill="#FFFFFF"/><rect x="3402" y="837" width="64" height="63" fill="#FF3A10"/><rect x="3466" y="837" width="64" height="63" fill="#FFB8A5"/><rect x="3529" y="837" width="63" height="63" fill="#FFFFFF"/>
<rect x="3150" y="899" width="64" height="63" fill="#33B0EE"/><rect x="3213" y="899" width="64" height="63" fill="#66C4F5"/><rect x="3276" y="899" width="64" height="63" fill="#10A8EE"/><rect x="3339" y="899" width="64" height="63" fill="#44B5F0"/><rect x="3402" y="899" width="64" height="63" fill="#FFC5B5"/><rect x="3466" y="899" width="64" height="63" fill="#FF3A10"/><rect x="3529" y="899" width="63" height="63" fill="#FF8066"/>
<rect x="3150" y="962" width="64" height="62" fill="#109EE8"/><rect x="3213" y="962" width="64" height="62" fill="#A8D8F8"/><rect x="3276" y="962" width="64" height="62" fill="#20A8EE"/><rect x="3339" y="962" width="64" height="62" fill="#A0D5F8"/><rect x="3402" y="962" width="64" height="62" fill="#FFFFFF"/><rect x="3466" y="962" width="64" height="62" fill="#FF8066"/><rect x="3529" y="962" width="63" height="62" fill="#FF3A10"/>
<path d="M3150 587H3592M3150 1024H3592" stroke="#2A3A4A" stroke-width="3"/>
<rect x="3603" y="614" width="10" height="386" fill="url(#cb)"/>
<path class="ax" d="M3613 616H3618M3613 691H3618M3613 767H3618M3613 845H3618M3613 922H3618M3613 1000H3618" stroke-width="1.5"/>
<text class="t" x="3621" y="708" font-size="55" textLength="68" lengthAdjust="spacingAndGlyphs">0.8</text>
<text class="t" x="3621" y="865" font-size="55" textLength="68" lengthAdjust="spacingAndGlyphs">0.4</text>
<text class="t" x="3621" y="1016" font-size="55" textLength="68" lengthAdjust="spacingAndGlyphs">0.0</text>
</g>

<g id="legend">
<rect x="148" y="1133" width="90" height="44" class="A"/><text class="t lg" x="290" y="1172">Acidobacteria</text>
<rect x="814" y="1133" width="90" height="44" class="C"/><text class="t lg" x="957" y="1172">Chloroflexi</text>
<rect x="1468" y="1133" width="86" height="44" class="V"/><text class="t lg" x="1606" y="1172">Verruvomicrobia</text>
<rect x="2213" y="1133" width="90" height="44" class="P"/><text class="t lg" x="2351" y="1172">Planctomycetes</text>
<rect x="2955" y="1133" width="91" height="44" class="B"/><text class="t lg" x="3093" y="1172">Bacteroidetes</text>
<rect x="148" y="1230" width="90" height="44" class="N"/><text class="t lg" x="290" y="1267">Actinobacteria</text>
<rect x="814" y="1230" width="90" height="44" class="Y"/><text class="t lg" x="957" y="1267">Cyanobacteria</text>
<rect x="1468" y="1230" width="91" height="44" class="L"/><text class="t lg" x="1611" y="1267">Latescibacteria</text>
<rect x="2213" y="1230" width="90" height="44" class="T"/><text class="t lg" x="2351" y="1267">Proteobacteria</text>
<rect x="2955" y="1230" width="91" height="44" class="E"/><text class="t lg" x="3093" y="1267">Euryarchaeota</text>
<rect x="148" y="1323" width="90" height="44" class="I"/><text class="t lg" x="290" y="1362">Nitrospirae</text>
<rect x="814" y="1323" width="90" height="44" class="H"/><text class="t lg" x="964" y="1362">Thaumarchaeota</text>
<rect x="1530" y="1323" width="88" height="44" fill="#FFFF00"/><text class="t lg" x="1670" y="1362">Gemmatimonadetes</text>
</g>
</svg>
